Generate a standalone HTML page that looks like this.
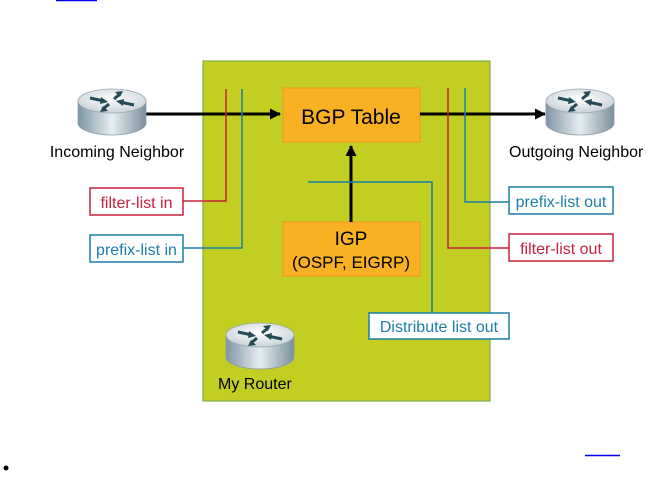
<!DOCTYPE html>
<html><head><meta charset="utf-8"><style>
body{margin:0;background:#fff}
svg{display:block}
text{font-family:"Liberation Sans",Arial,sans-serif}
</style></head><body>
<svg width="648" height="504" viewBox="0 0 648 504" xmlns="http://www.w3.org/2000/svg">
<defs>
<linearGradient id="cyl" x1="0" x2="1" y1="0" y2="0">
<stop offset="0" stop-color="#7f95a3"/><stop offset="0.5" stop-color="#e6eef2"/><stop offset="1" stop-color="#7a8f9c"/>
</linearGradient>
<radialGradient id="top" cx="0.5" cy="0.4" r="0.6">
<stop offset="0" stop-color="#ffffff"/><stop offset="1" stop-color="#c9d3d9"/>
</radialGradient>
<g id="router">
<path d="M0,12 L0,34 A34,12 0 0 0 68,34 L68,12 Z" fill="url(#cyl)" stroke="#8a9aa5" stroke-width="0.8"/>
<ellipse cx="34" cy="12" rx="34" ry="12" fill="url(#top)" stroke="#9aa8b0" stroke-width="0.8"/>
<g stroke="#244a55" stroke-width="3" fill="#244a55">
<line x1="12" y1="9" x2="26" y2="12"/><polygon points="30,13 23,8 22,15" stroke="none"/>
<line x1="56" y1="16" x2="42" y2="13"/><polygon points="38,12 45,17 46,10" stroke="none"/>
<line x1="36" y1="10" x2="42" y2="5"/><polygon points="45,2 37,3 42,8" stroke="none"/>
<line x1="31" y1="15" x2="25" y2="20"/><polygon points="22,23 30,22 25,17" stroke="none"/>
</g>
</g>
<marker id="ah" markerWidth="11" markerHeight="11" refX="10" refY="5.5" orient="auto" markerUnits="userSpaceOnUse"><polygon points="0,0 11,5.5 0,11" fill="#000"/></marker>
</defs>
<line x1="56" y1="0.5" x2="97" y2="0.5" stroke="#0000ee" stroke-width="1.5"/>
<rect x="203" y="61" width="287" height="340" fill="#c2cf22" stroke="#7bb04a" stroke-width="1.2"/>
<rect x="283" y="88" width="137" height="54" fill="#f9b124" stroke="#f7931e"/>
<text x="351" y="124" font-size="21" text-anchor="middle">BGP Table</text>
<rect x="283" y="222" width="137" height="54" fill="#f9b124" stroke="#f7931e"/>
<text x="351" y="245" font-size="19" text-anchor="middle">IGP</text>
<text x="351" y="268" font-size="17" text-anchor="middle">(OSPF, EIGRP)</text>
<line x1="146" y1="114" x2="280" y2="114" stroke="#000" stroke-width="3" marker-end="url(#ah)"/>
<line x1="420" y1="114" x2="545" y2="114" stroke="#000" stroke-width="3" marker-end="url(#ah)"/>
<line x1="351" y1="222" x2="351" y2="146" stroke="#000" stroke-width="3" marker-end="url(#ah)"/>
<polyline points="226,89 226,201 183,201" fill="none" stroke="#c8203c" stroke-width="1.5"/>
<polyline points="242,89 242,248 183,248" fill="none" stroke="#1a7fa8" stroke-width="1.5"/>
<polyline points="448,88 448,248 509,248" fill="none" stroke="#c8203c" stroke-width="1.5"/>
<polyline points="465,88 465,202 509,202" fill="none" stroke="#1a7fa8" stroke-width="1.5"/>
<polyline points="308,182 432,182 432,314" fill="none" stroke="#1a7fa8" stroke-width="1.5"/>
<rect x="90" y="188" width="93" height="27" fill="#fff" stroke="#c8203c" stroke-width="1.5"/>
<text x="136.5" y="208" font-size="16" fill="#c8203c" text-anchor="middle">filter-list in</text>
<rect x="90" y="235" width="93" height="27" fill="#fff" stroke="#1a7fa8" stroke-width="1.5"/>
<text x="136.5" y="255" font-size="16" fill="#1a7fa8" text-anchor="middle">prefix-list in</text>
<rect x="509" y="187" width="104" height="27" fill="#fff" stroke="#1a7fa8" stroke-width="1.5"/>
<text x="561" y="207" font-size="16" fill="#1a7fa8" text-anchor="middle">prefix-list out</text>
<rect x="509" y="234" width="104" height="27" fill="#fff" stroke="#c8203c" stroke-width="1.5"/>
<text x="561" y="254" font-size="16" fill="#c8203c" text-anchor="middle">filter-list out</text>
<rect x="369" y="313" width="140" height="26" fill="#fff" stroke="#1a7fa8" stroke-width="1.5"/>
<text x="439" y="332" font-size="16" fill="#1a7fa8" text-anchor="middle">Distribute list out</text>
<use href="#router" x="78" y="89"/>
<use href="#router" x="546" y="89"/>
<use href="#router" x="226" y="323"/>
<text x="117" y="157" font-size="16" text-anchor="middle">Incoming Neighbor</text>
<text x="509" y="157" font-size="16">Outgoing Neighbor</text>
<text x="218" y="389" font-size="16">My Router</text>
<line x1="585" y1="455.5" x2="620" y2="455.5" stroke="#0000ee" stroke-width="1.5"/>
<circle cx="6" cy="468" r="2.5" fill="#000"/>
</svg>
</body></html>
